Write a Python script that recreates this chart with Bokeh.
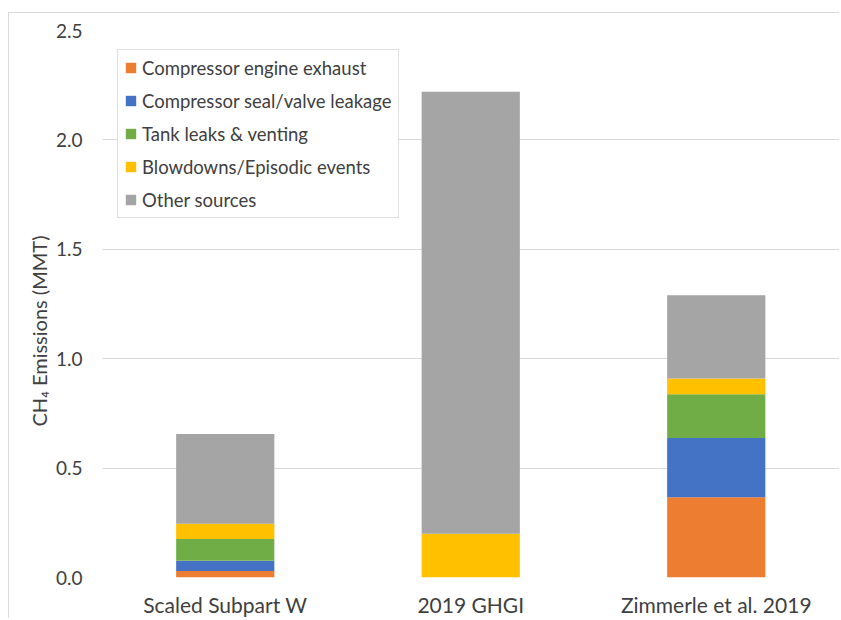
from bokeh.plotting import figure
from bokeh.models import (ColumnDataSource, Range1d, FixedTicker, Legend, LegendItem,
                          NumeralTickFormatter, Title)
from bokeh.embed import file_html
from bokeh.resources import INLINE

categories = ["Scaled Subpart W", "2019 GHGI", "Zimmerle et al. 2019"]
series_names = ["Compressor engine exhaust", "Compressor seal/valve leakage",
                "Tank leaks & venting", "Blowdowns/Episodic events", "Other sources"]
engine_exhaust = [0.030, 0.000, 0.367]
seal_valve = [0.046, 0.000, 0.270]
tank_leaks = [0.100, 0.000, 0.200]
blowdowns = [0.070, 0.200, 0.073]
other_sources = [0.410, 2.020, 0.380]
y_ticks = [0.0, 0.5, 1.0, 1.5, 2.0, 2.5]
y_title = "CH\u2084 Emissions (MMT)"

colors = ["#ED7D31", "#4472C4", "#70AD47", "#FFC000", "#A5A5A5"]
keys = ["engine", "seal", "tank", "blow", "other"]

xpos = list(range(len(categories)))
src = ColumnDataSource(dict(x=xpos, engine=engine_exhaust, seal=seal_valve,
                            tank=tank_leaks, blow=blowdowns, other=other_sources))

FONT = "Lato"
TXT = "#404040"

p = figure(width=831, height=606, output_backend="svg", toolbar_location=None,
           x_range=Range1d(-0.5, -0.5 + 738 / 245.5), y_range=Range1d(0, 2.5),
           min_border_left=93, min_border_right=0, min_border_top=17, min_border_bottom=41)
p.margin = (12, 0, 0, 8)
p.styles = {"border-left": "1px solid #D9D9D9", "border-top": "1px solid #D9D9D9"}
p.outline_line_color = None

rs = p.vbar_stack(keys, x="x", width=0.4, fill_color=colors, line_color=None, source=src)

legend = Legend(items=[LegendItem(label=n, renderers=[r]) for n, r in zip(series_names, rs)],
                location=(15, 359))
legend.border_line_color = "#BFBFBF"
legend.border_line_width = 1
legend.background_fill_color = "white"
legend.background_fill_alpha = 1.0
legend.padding = 6
legend.spacing = 10
legend.margin = 0
legend.glyph_width = 13
legend.glyph_height = 13
legend.label_standoff = 5
legend.label_height = 23
legend.label_text_font = FONT
legend.label_text_font_size = "18.5px"
legend.label_text_color = TXT
p.add_layout(legend)

p.xgrid.visible = False
p.ygrid.grid_line_color = "#D9D9D9"
p.ygrid.grid_line_width = 1

p.xaxis.ticker = FixedTicker(ticks=xpos)
p.xaxis.major_label_overrides = {i: c for i, c in zip(xpos, categories)}
p.yaxis.ticker = FixedTicker(ticks=y_ticks)
p.yaxis.formatter = NumeralTickFormatter(format="0.0")

for ax in (p.xaxis[0], p.yaxis[0]):
    ax.axis_line_color = None
    ax.major_tick_line_color = None
    ax.minor_tick_line_color = None
    ax.major_tick_out = 0
    ax.major_tick_in = 0
    ax.major_label_text_font = FONT
    ax.major_label_text_color = TXT

p.xaxis.major_label_text_font_size = "21px"
p.yaxis.major_label_text_font_size = "19px"
p.xaxis.major_label_standoff = 14
p.yaxis.major_label_standoff = 20

# y-axis title as a side title, starting a little above the frame bottom
ytitle = Title(text=y_title, align="left", offset=151, standoff=3,
               text_font=FONT, text_font_size="20px", text_font_style="normal",
               text_color=TXT)
p.add_layout(ytitle, "left")

open("out.html", "w").write(file_html(p, INLINE))
